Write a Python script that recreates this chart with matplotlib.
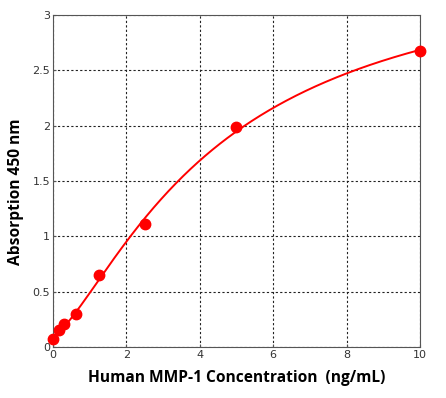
import matplotlib
matplotlib.use("Agg")
import matplotlib.pyplot as plt
import numpy as np

# standard curve points
conc = [0, 0.156, 0.3125, 0.625, 1.25, 2.5, 5, 10]
od = [0.07, 0.15, 0.205, 0.30, 0.65, 1.108, 1.985, 2.674]
x_ticks = [0, 2, 4, 6, 8, 10]
y_ticks = [0, 0.5, 1, 1.5, 2, 2.5, 3]
y_tick_labels = ["0", "0.5", "1", "1.5", "2", "2.5", "3"]


def fit_4pl(x, y):
    # grid over slope / midpoint, bottom and top solved by least squares
    x = np.asarray(x, float)
    y = np.asarray(y, float)
    best = None
    for b in np.linspace(0.5, 3.0, 101):
        for c in np.linspace(1.0, 40.0, 391):
            g = 1.0 / (1.0 + (x / c) ** b)
            A = np.column_stack([g, 1 - g])
            sol, *_ = np.linalg.lstsq(A, y, rcond=None)
            err = np.sum((A @ sol - y) ** 2)
            if best is None or err < best[0]:
                best = (err, sol[0], b, c, sol[1])
    return best[1:]


a, b, c, d = fit_4pl(conc, od)
xs = np.linspace(0, 10, 300)
ys = d + (a - d) / (1 + (xs / c) ** b)

fig = plt.figure(figsize=(4.46, 3.98), dpi=100)
ax = fig.add_axes([0.1188, 0.1281, 0.8229, 0.8342])

ax.plot(xs, ys, "-", color="#ff0000", lw=1.4, zorder=3)
ax.plot(conc, od, "o", color="#ff0000", ms=7.5, zorder=4, clip_on=False)

ax.set_xlim(0, 10)
ax.set_ylim(0, 3)
ax.set_xticks(x_ticks)
ax.set_yticks(y_ticks)
ax.set_yticklabels(y_tick_labels)
ax.grid(True, color="#222222", linestyle=(0, (2, 2)), lw=0.8)
ax.tick_params(direction="in", length=2, labelsize=8, labelcolor="#333333", color="#555555", pad=2)
for s in ax.spines.values():
    s.set_color("#555555")

ax.set_xlabel("Human MMP-1 Concentration  (ng/mL)", fontsize=11.2, fontweight="bold",
              family="Open Sans", labelpad=7)
ax.set_ylabel("Absorption 450 nm", fontsize=11.2, fontweight="bold",
              family="Open Sans")
ax.yaxis.set_label_coords(-0.078, 0.467)

fig.savefig("out.png", dpi=100)
